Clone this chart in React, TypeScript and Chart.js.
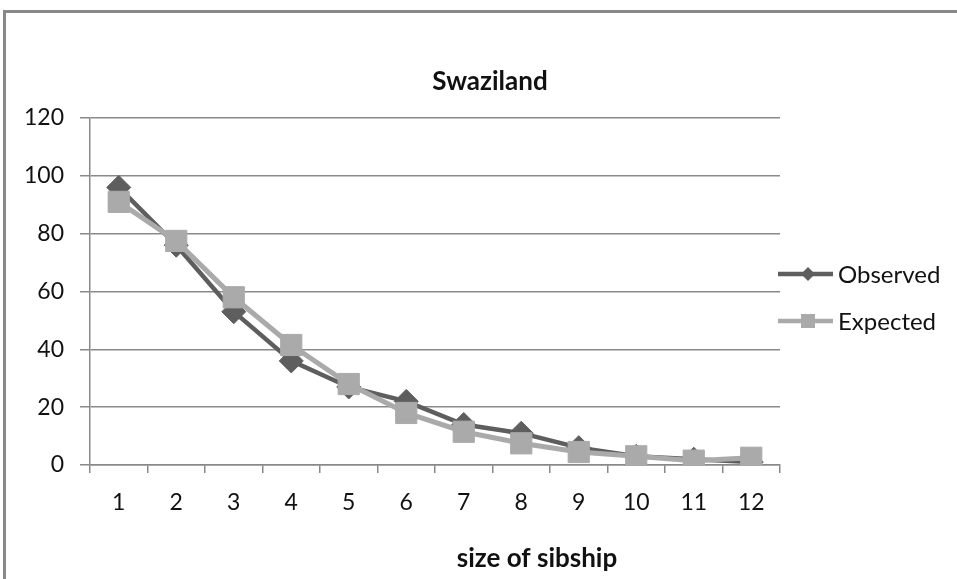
import React, { useEffect, useRef } from "react";
import { Chart, registerables } from "chart.js";

Chart.register(...registerables);

// Sibship sizes and counts
const sibshipSizes = ["1", "2", "3", "4", "5", "6", "7", "8", "9", "10", "11", "12"];
const observedCounts = [96, 76, 53, 36, 27, 22, 14, 11, 6, 3, 2, 1];
const expectedCounts = [91, 77.5, 58, 41.5, 28, 18, 11.5, 7.5, 4.5, 3, 1.5, 2.5];

const chartTitle = "Swaziland";
const xAxisTitle = "size of sibship";
const seriesNames = ["Observed", "Expected"];
const yMin = 0;
const yMax = 120;
const yStep = 20;

const FONT = "Lato, 'Open Sans', sans-serif";
const DARK = "#5e5e5e";
const LIGHT = "#aaaaaa";
const GRID = "#898989";
const TEXT = "#111111";

const W = 957;
const H = 579;

// Frame, titles and the line-with-marker legend
const decorPlugin = {
  id: "decor",
  beforeDraw(chart: any) {
    const ctx = chart.ctx as CanvasRenderingContext2D;
    ctx.save();
    ctx.fillStyle = "#ffffff";
    ctx.fillRect(0, 0, chart.width, chart.height);
    ctx.strokeStyle = GRID;
    ctx.lineWidth = 3;
    ctx.beginPath();
    ctx.moveTo(4.5, chart.height + 2);
    ctx.lineTo(4.5, 11.5);
    ctx.lineTo(chart.width + 2, 11.5);
    ctx.stroke();
    ctx.restore();
  },
  afterDraw(chart: any) {
    const ctx = chart.ctx as CanvasRenderingContext2D;
    ctx.save();
    ctx.fillStyle = TEXT;
    ctx.textAlign = "center";
    ctx.textBaseline = "middle";
    ctx.font = `bold 26px ${FONT}`;
    ctx.fillText(chartTitle, 490, 82);
    ctx.fillText(xAxisTitle, 537, 559);

    const entries = [
      { label: seriesNames[0], color: DARK, marker: "diamond", y: 274 },
      { label: seriesNames[1], color: LIGHT, marker: "square", y: 321 },
    ];
    for (const e of entries) {
      ctx.strokeStyle = e.color;
      ctx.lineWidth = 4.5;
      ctx.beginPath();
      ctx.moveTo(778, e.y);
      ctx.lineTo(833, e.y);
      ctx.stroke();
      ctx.fillStyle = e.color;
      ctx.beginPath();
      if (e.marker === "diamond") {
        const r = 7;
        ctx.moveTo(808, e.y - r);
        ctx.lineTo(808 + r, e.y);
        ctx.lineTo(808, e.y + r);
        ctx.lineTo(808 - r, e.y);
        ctx.closePath();
      } else {
        ctx.rect(801, e.y - 7, 14, 14);
      }
      ctx.fill();
      ctx.fillStyle = TEXT;
      ctx.textAlign = "left";
      ctx.font = `24px ${FONT}`;
      ctx.fillText(e.label, 838, e.y + 1);
    }
    ctx.restore();
  },
};

export default function App() {
  const canvasRef = useRef<HTMLCanvasElement | null>(null);

  useEffect(() => {
    document.body.style.margin = "0";
    const canvas = canvasRef.current;
    if (!canvas) return;

    const chart = new Chart(canvas, {
      type: "line",
      data: {
        labels: sibshipSizes,
        datasets: [
          {
            label: seriesNames[0],
            data: observedCounts,
            borderColor: DARK,
            backgroundColor: DARK,
            borderWidth: 4.5,
            pointStyle: "rectRot",
            pointRadius: 12,
            pointHoverRadius: 12,
            pointBorderColor: DARK,
            pointBackgroundColor: DARK,
            pointBorderWidth: 1,
            tension: 0,
            order: 2,
          },
          {
            label: seriesNames[1],
            data: expectedCounts,
            borderColor: LIGHT,
            backgroundColor: LIGHT,
            borderWidth: 5,
            pointStyle: "rect",
            pointRadius: 15,
            pointHoverRadius: 15,
            pointBorderColor: LIGHT,
            pointBackgroundColor: LIGHT,
            pointBorderWidth: 1,
            tension: 0,
            order: 1,
          },
        ],
      },
      options: {
        responsive: false,
        animation: false,
        devicePixelRatio: 1,
        layout: { padding: { top: 118, right: W - 780, bottom: 0, left: 0 } },
        plugins: {
          legend: { display: false },
          title: { display: false },
          tooltip: { enabled: false },
        },
        scales: {
          x: {
            type: "category",
            offset: true,
            afterFit(scale: any) {
              scale.height = H - 465;
            },
            grid: {
              offset: true,
              drawOnChartArea: false,
              drawTicks: true,
              tickLength: 8,
              color: GRID,
              lineWidth: 1.5,
            },
            border: { display: true, color: GRID, width: 1.5 },
            ticks: {
              color: TEXT,
              font: { family: FONT, size: 23 },
              padding: 16,
              maxRotation: 0,
              autoSkip: false,
            },
          },
          y: {
            min: yMin,
            max: yMax,
            afterFit(scale: any) {
              scale.width = 90;
            },
            grid: {
              color: GRID,
              lineWidth: 1.5,
              drawTicks: true,
              tickLength: 10,
            },
            border: { display: true, color: GRID, width: 1.5 },
            ticks: {
              stepSize: yStep,
              color: TEXT,
              font: { family: FONT, size: 23 },
              padding: 16,
            },
          },
        },
      },
      plugins: [decorPlugin],
    });

    return () => chart.destroy();
  }, []);

  return (
    <div style={{ width: W, height: H, overflow: "hidden" }}>
      <canvas ref={canvasRef} width={W} height={H} style={{ display: "block" }} />
    </div>
  );
}
